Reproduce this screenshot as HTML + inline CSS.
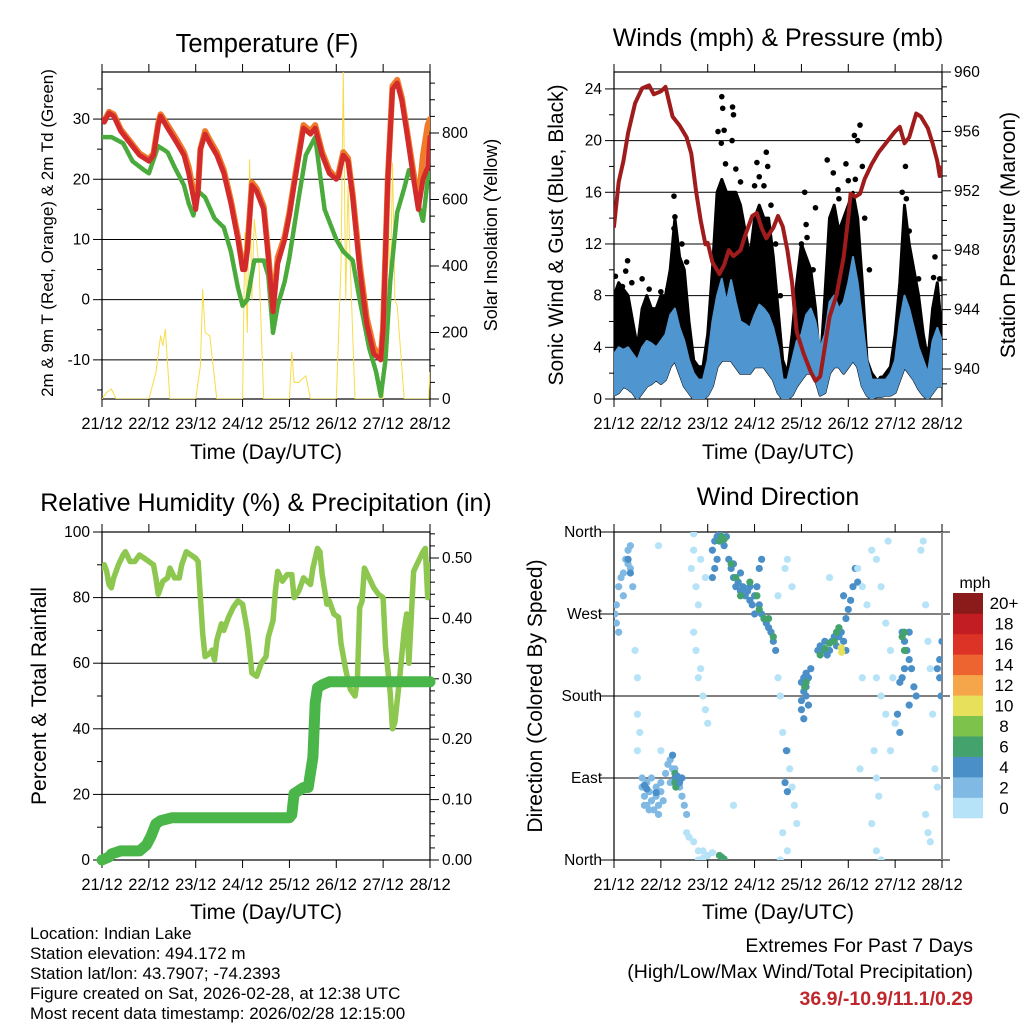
<!DOCTYPE html>
<html><head><meta charset="utf-8"><style>
html,body{margin:0;padding:0;background:#fff;}
svg{display:block;font-family:"Liberation Sans",sans-serif;}
</style></head><body>
<svg id="fig" width="1024" height="1024" viewBox="0 0 1024 1024">
<rect x="0" y="0" width="1024" height="1024" fill="#fff"/>
<text x="267" y="52" font-size="25.5" text-anchor="middle">Temperature (F)</text>
<text x="778" y="46" font-size="25" text-anchor="middle">Winds (mph) &amp; Pressure (mb)</text>
<text x="266" y="511" font-size="25" text-anchor="middle">Relative Humidity (%) &amp; Precipitation (in)</text>
<text x="778" y="505" font-size="25" text-anchor="middle">Wind Direction</text>
<text transform="translate(53,233) rotate(-90)" font-size="17" text-anchor="middle">2m &amp; 9m T (Red, Orange) &amp; 2m Td (Green)</text>
<text transform="translate(497,235) rotate(-90)" font-size="18" text-anchor="middle">Solar Insolation (Yellow)</text>
<text transform="translate(563,235) rotate(-90)" font-size="21" text-anchor="middle">Sonic Wind &amp; Gust (Blue, Black)</text>
<text transform="translate(1015,235) rotate(-90)" font-size="21" text-anchor="middle">Station Pressure (Maroon)</text>
<text transform="translate(46,696) rotate(-90)" font-size="21" text-anchor="middle">Percent &amp; Total Rainfall</text>
<text transform="translate(542,696) rotate(-90)" font-size="21" text-anchor="middle">Direction (Colored By Speed)</text>
<text x="266" y="459" font-size="21" text-anchor="middle">Time (Day/UTC)</text>
<text x="778" y="459" font-size="21" text-anchor="middle">Time (Day/UTC)</text>
<text x="266" y="919" font-size="21" text-anchor="middle">Time (Day/UTC)</text>
<text x="778" y="919" font-size="21" text-anchor="middle">Time (Day/UTC)</text>
<g font-size="17">
<text x="30" y="939">Location: Indian Lake</text>
<text x="30" y="959">Station elevation: 494.172 m</text>
<text x="30" y="979">Station lat/lon: 43.7907; -74.2393</text>
<text x="30" y="999">Figure created on Sat, 2026-02-28, at 12:38 UTC</text>
<text x="30" y="1019">Most recent data timestamp: 2026/02/28 12:15:00</text>
</g>
<text x="973" y="952" font-size="19.5" text-anchor="end">Extremes For Past 7 Days</text>
<text x="973" y="978" font-size="19.5" text-anchor="end">(High/Low/Max Wind/Total Precipitation)</text>
<text x="973" y="1005" font-size="19.5" font-weight="bold" fill="#c0272d" text-anchor="end">36.9/-10.9/11.1/0.29</text>
<text x="975" y="588" font-size="16" text-anchor="middle">mph</text>
</svg>
<script>
// ---- data ----
const dayLabels=["21/12","22/12","23/12","24/12","25/12","26/12","27/12","28/12"];
const tempDays=[0,0.05,0.15,0.25,0.4,0.6,0.8,1.0,1.1,1.2,1.25,1.4,1.6,1.75,1.85,1.95,2.0,2.05,2.1,2.2,2.3,2.45,2.6,2.75,2.9,3.0,3.05,3.1,3.2,3.3,3.45,3.55,3.65,3.75,3.9,4.0,4.1,4.3,4.45,4.55,4.7,4.85,5.0,5.05,5.15,5.25,5.35,5.5,5.65,5.8,5.95,6.0,6.1,6.2,6.3,6.4,6.5,6.65,6.75,6.85,6.95,7.0];
const temp2m=[30,29.5,31,30.5,28,26,24,23,24,29,30.5,28.5,26,24,21,17,15,18,25,27.5,26,24,21,16,10,5,5,8,19,18,15,7,-2,6,10,14,19,28.5,27.5,28.5,24,21,20,20.5,24,23,17,5,-4,-9,-10,-5,20,35,36,33,28,20,15,20,22,27];
const temp9m=[30,29.7,31.2,30.8,28.3,26.3,24.3,23.3,24.3,29.3,30.8,29,26.5,24.5,22,18,16,18.5,25,28,26.5,24.5,21.5,16.5,10.5,5.5,5.5,8.5,19.5,18.5,15.5,7.5,-1.5,7,10.5,14.5,19.5,29,28,29,24.5,21.5,20.2,21,24.5,23.5,17.5,6,-3,-8,-9.5,-4.5,20,35.5,36.5,33.5,28.5,21,16,24,29,30];
const dewDays=[0,0.2,0.45,0.65,0.9,1.0,1.2,1.4,1.55,1.75,1.85,1.95,2.05,2.2,2.4,2.6,2.75,2.9,3.0,3.1,3.25,3.45,3.55,3.65,3.75,3.9,4.0,4.2,4.35,4.55,4.75,4.9,5.0,5.15,5.35,5.5,5.7,5.85,5.95,6.05,6.15,6.3,6.45,6.55,6.65,6.75,6.85,6.95,7.0];
const dewPoint=[27,27,26,23,21.5,21,25.5,24.5,22,19,16,14,18,17,13.5,12,8,2,-1,0,6.5,6.5,4,-5.5,-1,3,7,17,24,27,15,12,10,8,6.5,0,-8,-12,-16,-10,3,14.5,18.5,21.5,20,16,13,20,21];
const solarDays=[0,0.1,0.2,0.3,1.0,1.15,1.25,1.3,1.35,1.45,2.0,2.1,2.15,2.2,2.3,2.45,3.0,3.05,3.1,3.15,3.2,3.25,3.35,3.45,4.0,4.05,4.1,4.2,4.35,4.45,5.0,5.1,5.15,5.2,5.25,5.3,5.4,6.0,6.1,6.15,6.2,6.25,6.3,6.45,6.97,7.0];
const solarVals=[0,20,30,0,0,80,190,160,210,0,0,100,330,200,190,0,0,500,200,720,300,540,400,0,0,140,50,50,70,0,0,400,985,300,640,400,0,0,620,300,710,300,280,0,0,80];
const presDays=[0,0.1,0.2,0.3,0.45,0.6,0.75,0.85,1.0,1.1,1.25,1.4,1.55,1.65,1.75,1.85,1.95,2.0,2.1,2.25,2.35,2.45,2.55,2.7,2.8,2.95,3.05,3.15,3.25,3.4,3.5,3.6,3.7,3.8,3.9,4.05,4.2,4.3,4.4,4.5,4.6,4.75,4.9,5.0,5.05,5.15,5.25,5.35,5.5,5.65,5.8,6.0,6.1,6.2,6.3,6.45,6.55,6.7,6.8,6.9,6.95,7.0];
const presVals=[949.6,952.6,954,955.9,957.9,958.9,959.1,958.5,958.7,959,957,956.4,955.6,954.5,952,950,948.4,948.5,947.2,946.4,947,948,947.6,948,949,950.3,950.5,949.5,948.8,949.5,950.3,949.6,948,945.8,942.5,941,939.8,939.2,939.5,941.5,943.5,945,947.5,950.2,951.8,951.6,951.8,952.8,953.8,954.6,955.2,956,956.3,955.2,955.6,957.2,957,956.2,955.2,954,953,953.6];
const windDays=[0,0.1,0.2,0.3,0.4,0.5,0.6,0.7,0.8,0.9,1.0,1.1,1.2,1.3,1.4,1.5,1.6,1.7,1.8,1.9,2.0,2.1,2.2,2.3,2.4,2.5,2.6,2.7,2.8,2.9,3.0,3.1,3.2,3.3,3.4,3.5,3.6,3.7,3.8,3.9,4.0,4.1,4.2,4.3,4.4,4.5,4.6,4.7,4.8,4.9,5.0,5.1,5.2,5.3,5.4,5.5,5.6,5.7,5.8,5.9,6.0,6.1,6.2,6.3,6.4,6.5,6.6,6.7,6.8,6.9,7.0];
const windHi=[3.5,4,3.8,4,3.5,3,4,4.5,4.3,4,4.5,5,6.5,7,5.5,4.5,3,2,1.5,1.5,3,6,8,9.3,7.5,9.2,7.5,6,5.8,5.5,6.5,7.3,7,6.5,5.5,4,1.5,1.5,3,4.5,5,6.5,7,6,4,5,7.5,8,7,7.5,9,11,9,6,3,1.5,1.5,1.5,1.5,2,3,6,8,7,5.5,4,3,2,4.5,5.5,4.5];
const windLo=[0.3,0.5,1,0.8,0.5,0,0.5,1,1.2,1.5,1.2,1.5,2.5,3,2,1,0.5,0,0,0,0.3,1,2.5,3,3,3,2.5,2,2,2,2.5,2.5,2.5,2,1.5,0.5,0,0,0.3,1,1.5,2,2,1.5,0.3,0.5,2,2.5,2.5,2,2.5,3,2.5,1,0.3,0,0.2,0.2,0.3,0.3,0.5,1.5,2.5,2,1.5,0.8,0.3,0,0.5,1,1];
const gustHi=[8,9,8.5,8,6,4,7,8,7,7,8,8,10,14,11,10,6,3,2.5,2.5,5,10,16,17,16,16,16,15,13,11,14,15,14,14,11,7,3,2,5,9,12,11,10,7,2.5,8,14,15,13,14,15,16,14,9,3,2,1.5,1.5,2,2.5,5,9,15,12,10,8,5,3,7,9,5];
const gustDotDays=[0.03,0.18,0.25,0.29,0.38,0.6,0.75,1.0,1.15,1.28,1.3,1.28,1.45,1.55,2.22,2.3,2.32,2.35,2.29,2.38,2.53,2.55,2.52,2.6,2.7,3.05,3.1,3.0,3.25,3.28,3.2,3.35,3.45,3.55,4.07,4.1,4.3,4.12,4.25,4.0,4.55,4.68,4.78,4.8,4.95,5.0,5.13,5.2,5.25,5.3,5.15,5.35,5.45,6.22,6.24,6.15,6.3,6.5,6.85,6.95,6.82,5.9,5.7];
const gustDotVals=[9.5,8.7,9.9,10.7,9,9.3,8.5,8.3,8.5,15.7,14.1,13.2,12,10.6,20.7,23.4,22.5,20.8,19.8,18.2,22.6,22,20,17.8,16.8,18.3,17.2,16.5,19.1,18,16.5,15,12,8,16,13.5,14.8,12.5,10,12,18.5,17.5,16.2,15.5,18.2,16.9,20.4,20,21.2,18,17,14,10,18,15.5,16,13,9.3,11,9.3,9.4,2.2,1.6];
const rhDays=[0,0.05,0.1,0.15,0.2,0.25,0.35,0.45,0.5,0.6,0.7,0.8,0.9,1.0,1.1,1.15,1.2,1.3,1.4,1.45,1.55,1.65,1.7,1.8,1.9,2.0,2.05,2.1,2.15,2.2,2.3,2.35,2.4,2.45,2.55,2.6,2.7,2.8,2.9,3.0,3.1,3.15,3.2,3.3,3.4,3.5,3.55,3.65,3.7,3.75,3.85,3.95,4.05,4.1,4.2,4.3,4.45,4.5,4.6,4.65,4.7,4.8,4.85,4.95,5.05,5.1,5.2,5.3,5.4,5.45,5.5,5.55,5.6,5.7,5.8,5.9,6.0,6.05,6.15,6.2,6.25,6.35,6.45,6.5,6.55,6.65,6.75,6.85,6.9,6.95,7.0];
const rhVals=[89,90,88,84,83,86,90,93,94,91,91,93,92,91,90,86,81,85,86,89,86,86,90,94,93,92,91,80,69,62,63,64,61,67,72,70,74,77,79,78,70,64,57,56,60,62,68,73,82,88,85,87,87,80,82,86,84,89,95,94,87,78,79,75,74,66,58,52,50,55,77,79,89,86,83,81,80,65,51,40,42,55,70,75,60,88,91,94,95,80,90];
const rainDays=[0,0.15,0.2,0.4,0.8,0.95,1.05,1.15,1.25,1.5,4.0,4.05,4.1,4.3,4.4,4.5,4.55,4.6,4.7,4.85,7.0];
const rainVals=[0,0.005,0.01,0.015,0.015,0.025,0.04,0.06,0.065,0.07,0.07,0.075,0.11,0.12,0.12,0.17,0.26,0.285,0.29,0.295,0.295];
const dirDays=[0.05,0.1,0.15,0.2,0.25,0.3,0.35,0.4,0.05,0.1,0.02,0.2,0.3,0.35,0.3,0.35,0.45,0.5,
0.5,0.55,0.5,
0.6,0.65,0.7,0.75,0.8,0.85,0.9,0.95,1.0,1.05,0.7,0.8,0.9,1.0,0.65,0.75,0.95,0.6,0.65,0.7,0.9,
1.1,1.15,1.2,1.25,1.3,1.35,1.4,1.45,1.5,1.55,1.2,1.3,1.3,1.3,1.32,1.35,1.4,1.45,1.25,
1.55,1.6,1.7,1.8,1.9,2.0,2.1,1.8,1.9,2.25,2.3,2.35,
1.7,1.75,1.8,1.7,1.75,1.85,1.9,1.95,2.0,1.95,1.85,1.65,1.7,
2.1,2.15,2.2,2.25,2.3,2.35,2.4,2.15,2.1,2.2,2.25,2.3,2.35,
2.45,2.5,2.55,2.6,2.65,2.7,2.75,2.8,2.85,2.9,2.95,3.0,3.05,3.1,3.15,3.2,3.25,3.3,3.35,3.4,3.45,2.55,2.7,2.9,3.0,3.1,3.15,2.5,2.6,2.7,2.9,3.05,3.1,3.2,3.3,3.4,
3.5,3.55,3.6,3.7,3.75,3.8,3.85,3.9,3.65,3.7,3.8,3.6,3.7,3.55,3.68,3.65,3.7,
4.0,4.05,4.1,4.15,4.2,4.0,4.05,4.1,4.15,4.0,4.05,4.1,4.07,4.1,
4.35,4.4,4.45,4.5,4.55,4.6,4.65,4.7,4.75,4.8,4.85,4.9,4.95,4.4,4.5,4.6,4.7,4.75,4.8,4.85,4.86,
4.95,5.0,5.05,5.1,5.15,5.2,4.9,5.2,5.3,5.4,
5.5,5.6,5.7,5.8,5.9,5.6,5.7,5.8,5.55,5.6,5.65,5.5,5.6,5.7,5.9,6.0,5.95,5.85,
6.15,6.2,6.25,6.3,6.2,6.15,6.1,6.3,6.05,6.1,6.15,6.2,6.2,
6.35,6.4,6.45,6.3,
6.55,6.6,6.65,6.7,6.75,6.8,6.85,6.9,6.65,6.7,6.75,6.95,6.95,6.9,7.0,6.98,
0.95,1.0,1.8,2.55,3.5,4.6,5.3,5.25];
const dirDeg=[280,300,310,290,330,340,320,300,260,250,270,315,325,345,330,315,230,200,
160,140,120,
80,70,60,75,65,55,70,60,75,65,85,90,80,85,60,55,50,90,82,78,74,
95,105,110,100,90,85,80,70,60,50,85,100,95,85,80,92,85,90,115,
30,25,20,10,10,5,8,0,2,5,3,1,
358,300,280,250,230,210,180,165,150,310,330,320,340,
340,350,355,358,350,345,355,320,310,330,350,355,352,
330,320,310,300,305,295,300,290,295,285,280,290,300,280,270,265,260,255,250,240,230,325,315,300,270,320,330,325,310,290,305,290,275,265,265,245,
200,180,140,120,100,80,60,40,320,330,300,30,10,0,120,85,75,
195,200,205,200,210,175,185,190,170,165,155,180,190,195,
230,235,230,240,225,230,240,245,235,245,250,240,230,225,232,238,240,250,255,233,228,
265,275,285,300,320,305,290,320,300,280,
340,330,300,260,230,200,180,160,120,90,70,40,10,0,120,150,200,350,
250,240,230,220,210,200,195,250,160,140,245,250,230,
210,190,180,170,
340,350,280,240,210,160,100,80,50,30,20,220,200,210,240,180,
345,120,200,60,290,310,200,100];
const dirSpd=[3,3,3,3,3,3,3,3,3,3,3,3,3,3,5,5,1,1,
1,1,1,
3,3,3,3,3,3,3,3,3,3,3,3,3,3,3,3,3,3,5,5,5,
3,3,3,3,4,4,3,3,3,3,3,3,7,7,7,5,5,5,5,
1,1,1,1,1,1,1,1,1,7,7,7,
1,1,1,1,1,1,1,1,1,1,1,1,1,
5,5,5,5,5,5,5,4,4,4,7,7,7,
5,5,5,5,4,5,5,4,5,5,5,4,5,5,4,5,4,5,4,5,4,5,5,4,5,4,4,7,7,7,7,7,7,7,7,7,
1,1,1,1,1,1,1,1,1,1,1,1,1,1,5,5,5,
5,5,5,5,5,5,5,5,5,5,5,5,7,7,
5,5,5,5,5,5,5,5,5,5,5,5,5,7,7,7,7,7,7,11,11,
5,5,5,4,4,5,4,1,1,1,
1,1,1,1,1,1,1,1,1,1,1,1,1,1,1,1,1,1,
5,5,5,5,5,5,5,5,5,5,7,7,7,
5,5,5,5,
1,1,1,1,1,1,1,1,1,1,1,5,5,5,5,5,
1,1,1,1,1,1,1,1];
const cbLabels=["0","2","4","6","8","10","12","14","16","18","20+"];
const cbColors=["#b6e3f7","#7fb9e4","#4a8fc7","#44a36c","#7dc24a","#e6e05a","#f5a64a","#ee6430","#dd3327","#c31d24","#8b1a1a"];

// ---- helpers ----
const NS="http://www.w3.org/2000/svg";
const svg=document.getElementById('fig');
function mk(tag,attrs,parent){const e=document.createElementNS(NS,tag);for(const k in attrs)e.setAttribute(k,attrs[k]);(parent||svg).appendChild(e);return e;}
const dayW=328/7;
const xL=d=>102+d*dayW, xR=d=>614+d*dayW;
const tY=v=>399-(v+16.5)*6.02, sY=v=>399-v*266/800;
const wY=v=>399-v*12.92, pY=v=>369-(v-940)*14.85;
const rY=v=>860-v*3.28, qY=v=>860-v*604;
const dY=v=>860-v*328/360;
function pts(xs,ys,fx,fy){return xs.map((d,i)=>fx(d).toFixed(1)+','+fy(ys[i]).toFixed(1)).join(' ');}
function clip(id,x,y,w,h){const c=mk('clipPath',{id:id});mk('rect',{x:x,y:y,width:w,height:h},c);}
clip('c1',102,72,328,327);clip('c2',614,72,328,327);clip('c3',102,532,328,328);clip('c4',614,532,328,328);

function frame(x0,y0,y1,name){
  const g=mk('g',{});
  
  
  mk('rect',{x:x0,y:y0,width:328,height:y1-y0,fill:'none',stroke:'#000','stroke-width':1.2},g);
  for(let i=0;i<8;i++){
    const x=x0+i*dayW;
    mk('line',{x1:x,y1:y0,x2:x,y2:y0-8,stroke:'#000'},g);
    mk('line',{x1:x,y1:y1,x2:x,y2:y1+8,stroke:'#000'},g);
    const t=mk('text',{x:x,y:y1+30,'font-size':16.5,'text-anchor':'middle'},g);
    t.textContent=dayLabels[i];
    
    
  }
  return g;
}
function yAxis(g,x0,side,vals,fy,labels,minor,grid){
  const dir=side==='left'?-1:1;
  minor.forEach(v=>{const y=fy(v);mk('line',{x1:x0,y1:y,x2:x0+dir*5,y2:y,stroke:'#000'},g);});
  vals.forEach((v,i)=>{const y=fy(v);
    mk('line',{x1:x0,y1:y,x2:x0+dir*9,y2:y,stroke:'#000'},g);
    if(grid)mk('line',{x1:grid[0],y1:y,x2:grid[1],y2:y,stroke:'#000','stroke-width':1},g);
    const t=mk('text',{x:x0+dir*12,y:y+5,'font-size':15.5,'text-anchor':side==='left'?'end':'start'},g);
    t.textContent=labels[i];
    
    
  });
}
function line(xs,ys,fx,fy,color,w,clipId,name,dash){
  const p=mk('polyline',{points:pts(xs,ys,fx,fy),fill:'none',stroke:color,'stroke-width':w,'stroke-linejoin':'round','stroke-linecap':'round'});
  if(clipId)p.setAttribute('clip-path','url(#'+clipId+')');
  if(dash)p.setAttribute('stroke-dasharray',dash);
  
  
  return p;
}

// ---- panel 1: temperature ----
const g1=frame(102,72,399,'temperature-axes');
yAxis(g1,102,'left',[-10,0,10,20,30],tY,["-10","0","10","20","30"],[-15,-5,5,15,25,35],[102,430]);
yAxis(g1,430,'right',[0,200,400,600,800],sY,["0","200","400","600","800"],[50,100,150,250,300,350,450,500,550,650,700,750,850,900,950],null);
line(solarDays,solarVals,xL,sY,'#f7dc4a',1,'c1','solar-line');
line(dewDays,dewPoint,xL,tY,'#4aaa3c',4.5,'c1','dewpoint-line','3 1.5');
line(tempDays,temp9m,xL,tY,'#f07a2a',6,'c1','temp-9m-line');
line(tempDays,temp2m,xL,tY,'#d32b2b',5,'c1','temp-2m-line');

// ---- panel 2: winds ----
const g2=frame(614,72,399,'winds-axes');
yAxis(g2,614,'left',[0,4,8,12,16,20,24],wY,["0","4","8","12","16","20","24"],[2,6,10,14,18,22],[614,942]);
yAxis(g2,942,'right',[940,944,948,952,956,960],pY,["940","944","948","952","956","960"],[939,941,942,943,945,946,947,949,950,951,953,954,955,957,958,959],null);
const gustBand=mk('polygon',{points:pts(windDays,gustHi,xR,wY)+' '+pts(windDays.slice().reverse(),windLo.slice().reverse(),xR,wY),fill:'#000',stroke:'#000','stroke-width':3,'stroke-linejoin':'round','clip-path':'url(#c2)'});


gustDotDays.forEach((d,i)=>{
  const c=mk('circle',{cx:xR(d),cy:wY(gustDotVals[i]),r:2.8,fill:'#000','clip-path':'url(#c2)'});
  
  
});
const windBand=mk('polygon',{points:pts(windDays,windHi,xR,wY)+' '+pts(windDays.slice().reverse(),windLo.slice().reverse(),xR,wY),fill:'#4f95d0',stroke:'#4f95d0','stroke-width':2,'stroke-linejoin':'round','clip-path':'url(#c2)'});


line(presDays,presVals,xR,pY,'#a01c1c',4,'c2','pressure-line');

// ---- panel 3: humidity & precip ----
const g3=frame(102,532,860,'humidity-axes');
yAxis(g3,102,'left',[0,20,40,60,80,100],rY,["0","20","40","60","80","100"],[10,30,50,70,90],[102,430]);
const rk=[],rm=[];for(let i=0;i<=5;i++)rk.push(i/10);for(let i=1;i<=27;i++){if(i%5)rm.push(i/50);}
yAxis(g3,430,'right',rk,qY,["0.00","0.10","0.20","0.30","0.40","0.50"],rm,null);
line(rhDays,rhVals,xL,rY,'#8dc74f',5.5,'c3','humidity-line');
line(rainDays,rainVals,xL,qY,'#4ab548',11,null,'rain-line');

// ---- panel 4: wind direction ----
const g4=frame(614,532,860,'direction-axes');
yAxis(g4,614,'left',[0,90,180,270,360],dY,["North","East","South","West","North"],[],[600,950]);
mk('line',{x1:942,y1:532,x2:942,y2:860,stroke:'#888','stroke-width':2},g4);
dirDays.forEach((d,i)=>{
  const bin=Math.min(10,Math.floor(dirSpd[i]/2));
  const c=mk('circle',{cx:xR(d),cy:dY(dirDeg[i]),r:3.6,fill:cbColors[bin],'clip-path':'url(#c4)'});
  
  
});
// colorbar
const cb=mk('g',{});


const bh=225/11;
cbColors.forEach((col,i)=>{
  const y=818-(i+1)*bh;
  const r=mk('rect',{x:953,y:y,width:30,height:bh+0.3,fill:col},cb);
  
  
  const t=mk('text',{x:1004,y:y+bh/2+6,'font-size':17,'text-anchor':'middle'},cb);
  t.textContent=cbLabels[i];
  
  
});
</script>
</body></html>
